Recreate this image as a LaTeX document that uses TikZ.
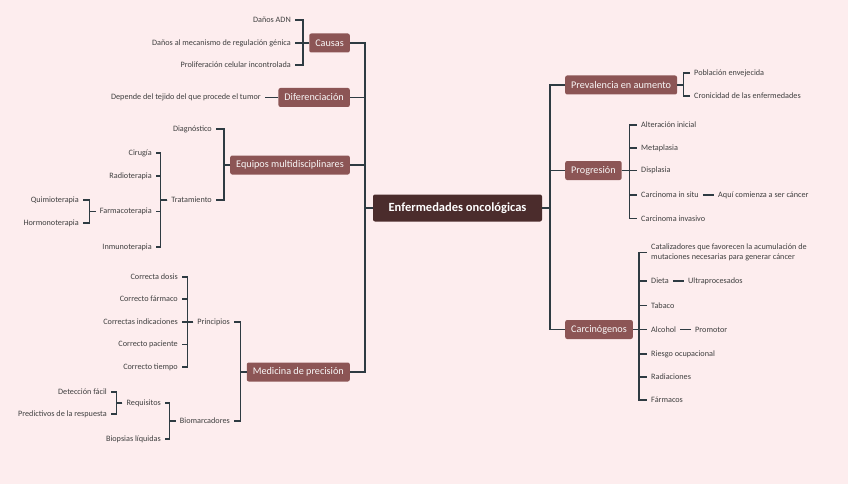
\documentclass[tikz,border=0pt]{standalone}
\usepackage{fontspec}
\setmainfont{Carlito}
\definecolor{bgpink}{HTML}{FDEDEE}
\definecolor{catred}{HTML}{8C5555}
\definecolor{rootbrown}{HTML}{4B2C2C}
\definecolor{linkgray}{HTML}{2E3B42}
\definecolor{leafgray}{HTML}{404040}
\tikzset{
  root/.style={fill=rootbrown, text=white, rounded corners=2pt, font=\fontsize{12.5}{14}\selectfont\bfseries,
    minimum width=169pt, minimum height=27pt, inner sep=0pt},
  cat/.style={fill=catred, text=white!95!catred, rounded corners=2pt, font=\fontsize{10.2}{12}\selectfont,
    minimum height=19pt, inner xsep=6pt, inner ysep=0pt},
  leaf/.style={text=leafgray, font=\fontsize{8.2}{9}\selectfont, inner xsep=4pt, inner ysep=1pt},
  lf/.style={leaf, anchor=east},
  rt/.style={leaf, anchor=west},
  trunk/.style={draw=linkgray, line width=1.8pt},
  br/.style={draw=linkgray, line width=1.2pt},
}
\begin{document}
\begin{tikzpicture}[x=1pt,y=-1pt]
\fill[bgpink] (0,0) rectangle (848,484);
\useasboundingbox (0,0) rectangle (848,484);

\node[root] (root) at (457.5,208) {Enfermedades oncológicas};

% left side
\node[cat, anchor=east] (causas) at (350,43) {Causas};
\node[cat, anchor=east] (dif) at (350,97.5) {Diferenciación};
\node[cat, anchor=east] (equipos) at (350,165) {Equipos multidisciplinares};
\node[cat, anchor=east] (medicina) at (350,372) {Medicina de precisión};

% right side
\node[cat, anchor=west] (prev) at (565,85) {Prevalencia en aumento};
\node[cat, anchor=west] (prog) at (565,170.5) {Progresión};
\node[cat, anchor=west] (carc) at (565,329.5) {Carcinógenos};

\foreach \c in {causas,dif,equipos,medicina}
  \draw[trunk] (root.west) -- ++(-8,0) |- (\c.east);
\foreach \c in {prev,prog,carc}
  \draw[trunk] (root.east) -- ++(8,0) |- (\c.west);

% causas
\node[lf] (ca1) at (295,20) {Daños ADN};
\node[lf] (ca2) at (295,43) {Daños al mecanismo de regulación génica};
\node[lf] (ca3) at (295,65) {Proliferación celular incontrolada};
\foreach \c in {ca1,ca2,ca3}
  \draw[br] (causas.west) -- ++(-6,0) |- (\c.east);

% diferenciacion
\node[lf] (di1) at (265,97.5) {Depende del tejido del que procede el tumor};
\draw[br] (dif.west) -- (di1.east);

% equipos
\node[lf] (eq1) at (216,129) {Diagnóstico};
\node[lf] (trat) at (216,200) {Tratamiento};
\foreach \c in {eq1,trat}
  \draw[br] (equipos.west) -- ++(-6,0) |- (\c.east);
\node[lf] (tr1) at (156,153) {Cirugía};
\node[lf] (tr2) at (156,176) {Radioterapia};
\node[lf] (farm) at (156,211.5) {Farmacoterapia};
\node[lf] (tr4) at (156,247) {Inmunoterapia};
\foreach \c in {tr1,tr2,farm,tr4}
  \draw[br] (trat.west) -- ++(-7,0) |- (\c.east);
\node[lf] (fa1) at (83,200) {Quimioterapia};
\node[lf] (fa2) at (83,223) {Hormonoterapia};
\foreach \c in {fa1,fa2}
  \draw[br] (farm.west) -- ++(-6,0) |- (\c.east);

% medicina de precision
\node[lf] (princ) at (234,322) {Principios};
\node[lf] (bio) at (234,421) {Biomarcadores};
\foreach \c in {princ,bio}
  \draw[br] (medicina.west) -- ++(-6,0) |- (\c.east);
\node[lf] (pr1) at (182,277) {Correcta dosis};
\node[lf] (pr2) at (182,299) {Correcto fármaco};
\node[lf] (pr3) at (182,322) {Correctas indicaciones};
\node[lf] (pr4) at (182,344.5) {Correcto paciente};
\node[lf] (pr5) at (182,367) {Correcto tiempo};
\foreach \c in {pr1,pr2,pr3,pr4,pr5}
  \draw[br] (princ.west) -- ++(-6,0) |- (\c.east);
\node[lf] (req) at (165,403) {Requisitos};
\node[lf] (bi2) at (165,439) {Biopsias líquidas};
\foreach \c in {req,bi2}
  \draw[br] (bio.west) -- ++(-6,0) |- (\c.east);
\node[lf] (rq1) at (111,392) {Detección fácil};
\node[lf] (rq2) at (111,414) {Predictivos de la respuesta};
\foreach \c in {rq1,rq2}
  \draw[br] (req.west) -- ++(-6,0) |- (\c.east);

% prevalencia
\node[rt] (pv1) at (690,73) {Población envejecida};
\node[rt] (pv2) at (690,96) {Cronicidad de las enfermedades};
\foreach \c in {pv1,pv2}
  \draw[br] (prev.east) -- ++(6,0) |- (\c.west);

% progresion
\node[rt] (pg1) at (637,125) {Alteración inicial};
\node[rt] (pg2) at (637,148) {Metaplasia};
\node[rt] (pg3) at (637,170.5) {Displasia};
\node[rt] (situ) at (637,195) {Carcinoma in situ};
\node[rt] (pg5) at (637,218.5) {Carcinoma invasivo};
\foreach \c in {pg1,pg2,pg3,situ,pg5}
  \draw[br] (prog.east) -- ++(8,0) |- (\c.west);
\node[rt] (situx) at (714,195) {Aquí comienza a ser cáncer};
\draw[br] (situ.east) -- (situx.west);

% carcinogenos
\node[rt, align=left, font=\fontsize{8.2}{9.6}\selectfont] (cg1) at (647,252.5) {Catalizadores que favorecen la acumulación de\\mutaciones necesarias para generar cáncer};
\node[rt] (dieta) at (647,281) {Dieta};
\node[rt] (cg3) at (647,305.5) {Tabaco};
\node[rt] (alc) at (647,329.5) {Alcohol};
\node[rt] (cg5) at (647,354) {Riesgo ocupacional};
\node[rt] (cg6) at (647,377) {Radiaciones};
\node[rt] (cg7) at (647,400) {Fármacos};
\foreach \c in {cg1,dieta,cg3,alc,cg5,cg6,cg7}
  \draw[br] (carc.east) -- ++(6,0) |- (\c.west);
\node[rt] (dietax) at (684,281) {Ultraprocesados};
\draw[br] (dieta.east) -- (dietax.west);
\node[rt] (alcx) at (691,329.5) {Promotor};
\draw[br] (alc.east) -- (alcx.west);
\end{tikzpicture}
\end{document}
